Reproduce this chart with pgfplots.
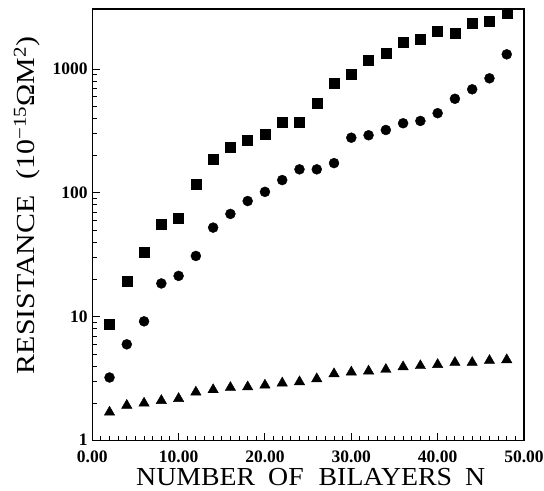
\documentclass[border=0pt]{standalone}
\usepackage{fontspec}
\setmainfont{Liberation Serif}
\newfontfamily\ylabfont[FakeStretch=1.15]{Liberation Serif}
\newfontfamily\xlabfont[FakeStretch=1.07]{Liberation Serif}
\newfontfamily\tickfont[FakeStretch=1.0]{Liberation Serif}
\usepackage{pgfplots}
\pgfplotsset{compat=1.18}
\begin{document}
\begin{tikzpicture}
\path[use as bounding box] (-92.3pt,-50pt) rectangle (452pt,441pt);
\begin{axis}[
  at={(0pt,0pt)}, anchor=south west,
  scale only axis, width=432pt, height=432pt,
  xmin=0, xmax=50, ymode=log, ymin=1, ymax=3050,
  axis line style={line width=1.2pt},
  tick align=inside, xtick pos=bottom, ytick pos=left,
  xtick={0,10,20,30,40,50}, minor x tick num=9,
  ytick={1,10,100,1000}, yticklabels={\raisebox{2pt}{1},10,100,1000},
  major tick length=8pt, minor tick length=5pt,
  every tick/.style={line width=1pt, black},
  /pgf/number format/assume math mode=true,
  xticklabel={\pgfmathprintnumber[fixed,fixed zerofill,precision=2]{\tick}},
  tick label style={font=\tickfont\bfseries\fontsize{17.5}{17.5}\selectfont},
  xticklabel style={yshift=-7pt},
  yticklabel style={xshift=-1pt},
  xlabel={\xlabfont NUMBER\hspace{13pt}OF\hspace{15pt}BILAYERS\hspace{13pt}N},
  ylabel={\ylabfont RESISTANCE\hspace{16pt}(10\textsuperscript{−15}ΩM\textsuperscript{2})},
  label style={font=\fontsize{26}{26}\selectfont},
  xlabel style={at={(axis description cs:0.506,-0.084)}, anchor=center, inner sep=1pt},
  ylabel style={at={(axis description cs:-0.151,0.545)}, anchor=center, rotate=0},
  clip=false,
]
\addplot[only marks, mark=square*, mark size=5pt, black] coordinates {
(2,8.8)(4,19.4)(6,33.5)(8,56)(10,63)(12,118)(14,188)(16,232)(18,267)(20,299)
(22,374)(24,369)(26,528)(28,766)(30,910)(32,1167)(34,1350)(36,1660)(38,1740)
(40,2030)(42,1930)(44,2360)(46,2440)(48,2840)};
\addplot[only marks, mark=*, mark size=5pt, black] coordinates {
(2,3.24)(4,6.0)(6,9.2)(8,18.6)(10,21.4)(12,31)(14,52.5)(16,67.7)(18,86)(20,102)
(22,127)(24,155)(26,155)(28,174)(30,279)(32,292)(34,322)(36,365)(38,381)
(40,440)(42,575)(44,686)(46,841)(48,1313)};
\addplot[only marks, mark=triangle*, mark size=6pt, black] coordinates {
(2,1.70)(4,1.93)(6,2.01)(8,2.11)(10,2.19)(12,2.47)(14,2.58)(16,2.69)(18,2.72)
(20,2.81)(22,2.92)(24,2.99)(26,3.16)(28,3.47)(30,3.58)(32,3.65)(34,3.76)
(36,3.95)(38,4.03)(40,4.12)(42,4.28)(44,4.28)(46,4.44)(48,4.5)};
\end{axis}
\end{tikzpicture}
\end{document}
